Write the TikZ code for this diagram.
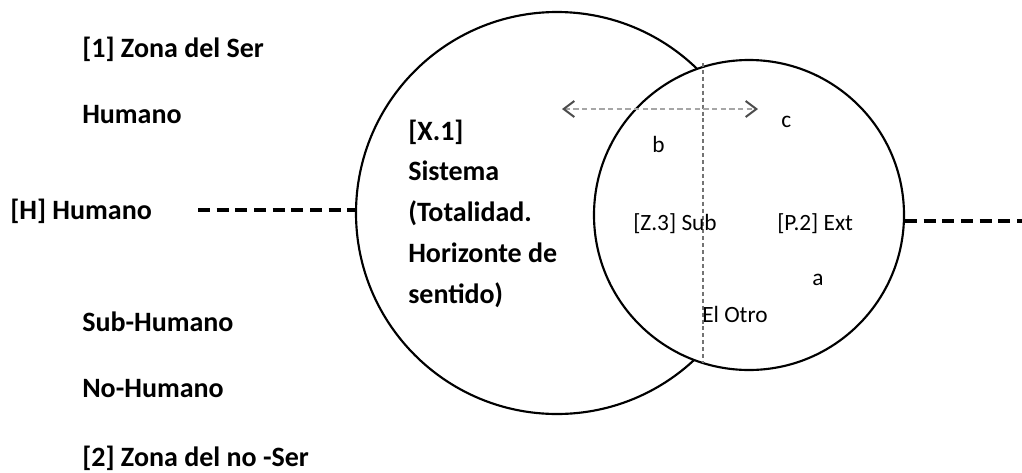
\documentclass[tikz,border=0pt]{standalone}
\usepackage{fontspec}
\setmainfont{Carlito}
\usetikzlibrary{arrows.meta}
\begin{document}
\begin{tikzpicture}[x=0.75pt,y=-0.75pt,
  lbl/.style={font=\fontsize{21}{25}\selectfont\bfseries, anchor=base west, inner sep=0pt},
  inl/.style={font=\fontsize{17.5}{20}\selectfont, anchor=base west, inner sep=0pt},
  ring/.style={circle, draw=black, line width=1.6pt, inner sep=0pt},
  guide/.style={black, line width=2.6pt, dash pattern=on 9pt off 5pt},
  dotv/.style={black!55, line width=1.4pt, dash pattern=on 3pt off 2.2pt},
  doth/.style={black!35, line width=1.5pt, dash pattern=on 4pt off 2.5pt},
]
\useasboundingbox (0,0) rectangle (1022,472);
% circles
\node[ring, minimum size=301.5pt] (big) at (557,213) {};
\node[ring, fill=white, minimum size=232.5pt] (small) at (749,215) {};
% guides
\coordinate (vt) at (703,63);
\coordinate (vb) at (703,363);
\draw[dotv] (vt) -- (vb);
\coordinate (al) at (562,109);
\coordinate (ar) at (758,109);
\draw[doth, {Straight Barb[length=8pt,width=12pt,line width=1.5pt,color=black!70]}-{Straight Barb[length=8pt,width=12pt,line width=1.5pt,color=black!70]}] (al) -- (ar);
\coordinate (hl) at (198,210);
\draw[guide] (hl) -- (hl -| big.west);
\coordinate (rr) at (1022,221);
\draw[guide] (small.east |- rr) -- (rr);
% left labels
\node[lbl] (z1) at (82,57) {[1] Zona del Ser};
\node[lbl] (hu) at (82,123) {Humano};
\node[lbl] (hh) at (10,219) {[H] Humano};
\node[lbl] (sh) at (82,331) {Sub-Humano};
\node[lbl] (nh) at (82,397) {No-Humano};
\node[lbl] (z2) at (82,466) {[2] Zona del no -Ser};
% system block
\node[lbl] (s1) at (408,140) {[X.1]};
\node[lbl] (s2) at (408,180) {Sistema};
\node[lbl] (s3) at (408,221) {(Totalidad.};
\node[lbl] (s4) at (408,262) {Horizonte de};
\node[lbl] (s5) at (408,303) {sentido)};
% inner labels
\node[inl] (zs) at (633,230) {[Z.3] Sub};
\node[inl] (pe) at (777,230) {[P.2] Ext};
\node[inl] (la) at (812,285) {a};
\node[inl] (lb) at (652,152) {b};
\node[inl] (lc) at (781,127) {c};
\node[inl] (eo) at (702,322) {El Otro};
\end{tikzpicture}
\end{document}
